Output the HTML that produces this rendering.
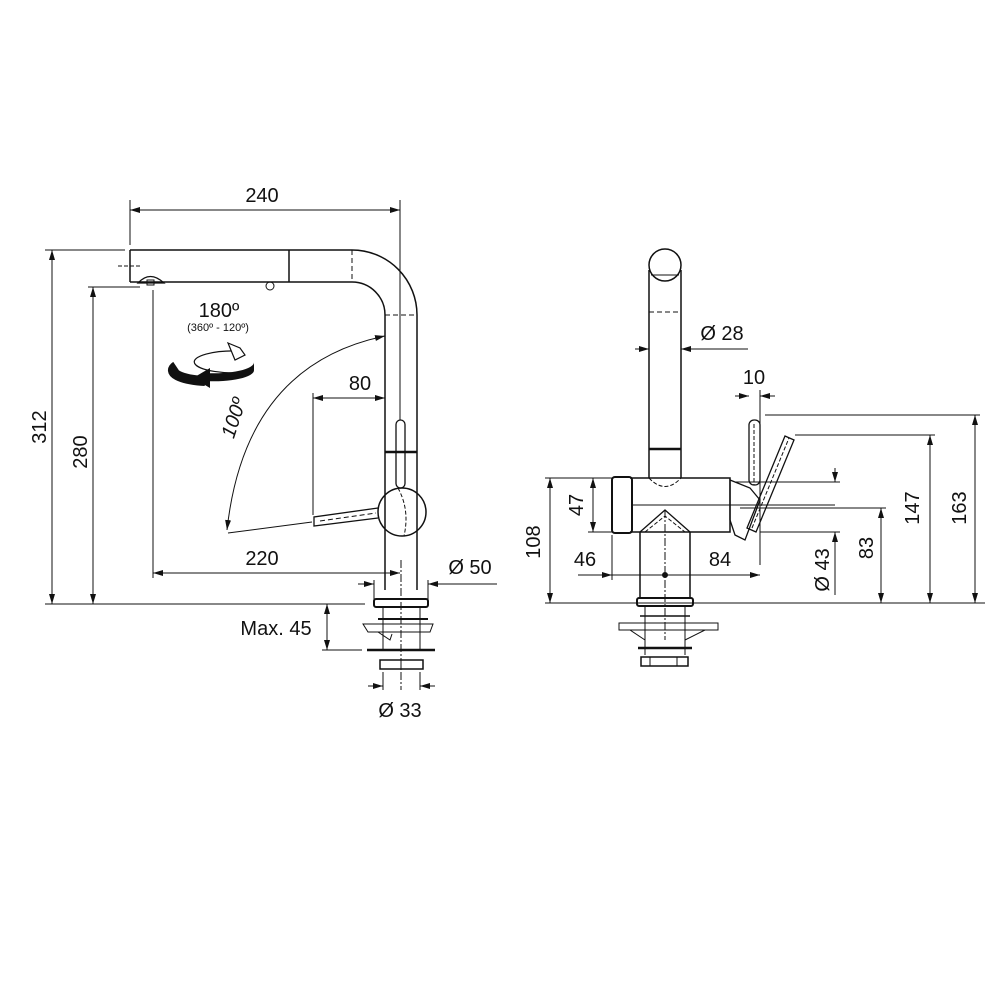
<!DOCTYPE html>
<html><head><meta charset="utf-8"><style>html,body{margin:0;padding:0;background:#fff}svg{display:block}text{font-family:"Liberation Sans",sans-serif;fill:#111}</style></head>
<body>
<svg width="1000" height="1000" viewBox="0 0 1000 1000" xmlns="http://www.w3.org/2000/svg">
<defs>
<marker id="a" viewBox="0 0 10 6" refX="10" refY="3" markerWidth="10" markerHeight="6" orient="auto-start-reverse" markerUnits="userSpaceOnUse"><path d="M0,0L10,3L0,6z" fill="#111"/></marker>
</defs>
<g stroke="#111" fill="none" stroke-width="1">
<!-- LEFT FAUCET -->
<path d="M130,250H352A65,65 0 0 1 417,315V590" stroke-width="1.5"/>
<path d="M130,282H352A33,33 0 0 1 385,315V590" stroke-width="1.5"/>
<line x1="130" y1="250" x2="130" y2="282" stroke-width="1.5"/>
<line x1="289" y1="250" x2="289" y2="282" stroke-width="1.5"/>
<line x1="352" y1="250" x2="352" y2="282" stroke-dasharray="5,3"/>
<line x1="385" y1="315" x2="417" y2="315" stroke-dasharray="5,3"/>
<line x1="385" y1="452" x2="417" y2="452" stroke-width="2.5"/>
<line x1="118" y1="266" x2="142" y2="266" stroke-dasharray="4,2"/>
<path d="M138,283Q150,270 164,283Z" stroke-width="1.3"/>
<rect x="147" y="280" width="7" height="5"/>
<circle cx="270" cy="286" r="4"/>
<rect x="396" y="420" width="9" height="68" rx="4.5" stroke-width="1.3"/>
<circle cx="402" cy="512" r="24" stroke-width="1.5"/>
<path d="M398,488Q410,510 404,536" stroke-dasharray="4,2"/>
<path d="M378,508L314,517V526L378,518" stroke-width="1.3"/>
<line x1="320" y1="521" x2="376" y2="513" stroke-dasharray="5,3"/>
<!-- base left -->
<rect x="374" y="599" width="54" height="8" rx="2" stroke-width="2"/>
<line x1="383" y1="607" x2="383" y2="650"/><line x1="420" y1="607" x2="420" y2="650"/>
<line x1="378" y1="619" x2="428" y2="619" stroke-width="2"/>
<path d="M363,624H433L430,632H368Z"/>
<path d="M378,632L390,640L392,634"/>
<line x1="367" y1="650" x2="435" y2="650" stroke-width="2.5"/>
<rect x="380" y="660" width="43" height="9" stroke-width="1.5"/>
<line x1="401" y1="660" x2="401" y2="669"/>
<line x1="401" y1="560" x2="401" y2="690" stroke-dasharray="8,2,2,2"/>
<!-- dims left -->
<line x1="130" y1="200" x2="130" y2="245"/>
<line x1="400" y1="200" x2="400" y2="420"/>
<line x1="130" y1="210" x2="400" y2="210" marker-start="url(#a)" marker-end="url(#a)"/>
<line x1="45" y1="250" x2="125" y2="250"/>
<line x1="45" y1="604" x2="365" y2="604"/>
<line x1="52" y1="250" x2="52" y2="604" marker-start="url(#a)" marker-end="url(#a)"/>
<line x1="88" y1="287" x2="140" y2="287"/>
<line x1="93" y1="287" x2="93" y2="604" marker-start="url(#a)" marker-end="url(#a)"/>
<line x1="153" y1="290" x2="153" y2="578"/>
<line x1="153" y1="573" x2="400" y2="573" marker-start="url(#a)" marker-end="url(#a)"/>
<line x1="313" y1="393" x2="313" y2="515"/>
<line x1="313" y1="398" x2="385" y2="398" marker-start="url(#a)" marker-end="url(#a)"/>
<line x1="374" y1="580" x2="374" y2="600"/><line x1="428" y1="580" x2="428" y2="600"/>
<line x1="358" y1="584" x2="374" y2="584" marker-end="url(#a)"/>
<line x1="497" y1="584" x2="428" y2="584" marker-end="url(#a)"/>
<path d="M385,336Q245,365 227,530" marker-start="url(#a)" marker-end="url(#a)"/>
<line x1="228" y1="533" x2="312" y2="522"/>
<line x1="322" y1="650" x2="362" y2="650"/>
<line x1="327" y1="604" x2="327" y2="650" marker-start="url(#a)" marker-end="url(#a)"/>
<line x1="383" y1="672" x2="383" y2="690"/><line x1="420" y1="672" x2="420" y2="690"/>
<line x1="368" y1="686" x2="383" y2="686" marker-end="url(#a)"/>
<line x1="435" y1="686" x2="420" y2="686" marker-end="url(#a)"/>
<!-- rotation icon -->
<path d="M240,351A40,11 0 1 0 250,372" stroke-width="1.2"/>
<path d="M176,366A40,11 0 0 0 205,381" stroke="#111" stroke-width="10"/>
<path d="M205,381A40,11 0 0 0 254,370L254,362A40,11 0 0 1 205,373Z" fill="#111" stroke="none"/>
<path d="M210,368L193,378L210,388Z" fill="#111" stroke="none"/>
<path d="M228,343L240,348L245,355L235,360Z" fill="#fff" stroke-width="1.2"/>
<!-- RIGHT FAUCET -->
<circle cx="665" cy="265" r="16" stroke-width="1.5"/>
<path d="M649,270V478M681,270V478" stroke-width="1.5"/>
<path d="M651,275H679" />
<line x1="649" y1="312" x2="681" y2="312" stroke-dasharray="5,3"/>
<line x1="649" y1="449" x2="681" y2="449" stroke-width="2.5"/>
<path d="M630,478H730V532H630" stroke-width="1.5"/>
<rect x="612" y="477" width="20" height="56" rx="3" stroke-width="2"/>
<line x1="632" y1="505" x2="835" y2="505"/>
<path d="M649,478Q665,495 681,478" stroke-dasharray="4,2"/>
<path d="M640,532L665,510L690,532" stroke-width="1.3"/>
<path d="M645,532L665,516L685,532" stroke-dasharray="4,2"/>
<path d="M640,532V598M690,532V598" stroke-width="1.5"/>
<line x1="665" y1="510" x2="665" y2="640" stroke-dasharray="8,2,2,2"/>
<circle cx="665" cy="575" r="2.5" fill="#111"/>
<rect x="749" y="420" width="11" height="65" rx="5" stroke-width="1.3"/>
<line x1="754" y1="424" x2="754" y2="485" stroke-dasharray="4,2"/>
<path d="M730,480L750,488L760,500L745,540L735,535L730,520Z" stroke-width="1.3"/>
<path d="M747,528L785,436L794,440L756,532Z" stroke-width="1.3"/>
<line x1="752" y1="528" x2="789" y2="438" stroke-dasharray="4,2"/>
<!-- base right -->
<rect x="637" y="598" width="56" height="8" rx="2" stroke-width="2"/>
<line x1="645" y1="606" x2="645" y2="655"/><line x1="685" y1="606" x2="685" y2="655"/>
<line x1="640" y1="616" x2="690" y2="616" stroke-width="1.5"/>
<path d="M619,623H718V630H619Z"/>
<path d="M630,630L645,640M705,630L685,640"/>
<line x1="638" y1="648" x2="692" y2="648" stroke-width="2.5"/>
<rect x="641" y="657" width="47" height="9" stroke-width="1.5"/>
<line x1="650" y1="657" x2="650" y2="666"/><line x1="677" y1="657" x2="677" y2="666"/>
<!-- dims right -->
<line x1="635" y1="349" x2="649" y2="349" marker-end="url(#a)"/>
<line x1="748" y1="349" x2="681" y2="349" marker-end="url(#a)"/>
<line x1="735" y1="396" x2="749" y2="396" marker-end="url(#a)"/>
<line x1="775" y1="396" x2="760" y2="396" marker-end="url(#a)"/>
<line x1="760" y1="390" x2="760" y2="565"/>
<line x1="545" y1="478" x2="612" y2="478"/>
<line x1="588" y1="532" x2="612" y2="532"/>
<line x1="550" y1="478" x2="550" y2="603" marker-start="url(#a)" marker-end="url(#a)"/>
<line x1="593" y1="478" x2="593" y2="532" marker-start="url(#a)" marker-end="url(#a)"/>
<line x1="612" y1="535" x2="612" y2="580"/>
<line x1="578" y1="575" x2="612" y2="575" marker-end="url(#a)"/>
<line x1="612" y1="575" x2="760" y2="575" marker-end="url(#a)"/>
<line x1="545" y1="603" x2="985" y2="603"/>
<line x1="735" y1="482" x2="840" y2="482"/>
<line x1="760" y1="532" x2="840" y2="532"/>
<line x1="835" y1="468" x2="835" y2="482" marker-end="url(#a)"/>
<line x1="835" y1="595" x2="835" y2="532" marker-end="url(#a)"/>
<line x1="740" y1="508" x2="886" y2="508"/>
<line x1="881" y1="508" x2="881" y2="603" marker-start="url(#a)" marker-end="url(#a)"/>
<line x1="795" y1="435" x2="935" y2="435"/>
<line x1="930" y1="435" x2="930" y2="603" marker-start="url(#a)" marker-end="url(#a)"/>
<line x1="765" y1="415" x2="980" y2="415"/>
<line x1="975" y1="415" x2="975" y2="603" marker-start="url(#a)" marker-end="url(#a)"/>
</g>
<g font-size="20">
<text x="262" y="202" text-anchor="middle">240</text>
<text transform="translate(46,427) rotate(-90)" text-anchor="middle">312</text>
<text transform="translate(87,452) rotate(-90)" text-anchor="middle">280</text>
<text x="262" y="565" text-anchor="middle">220</text>
<text x="360" y="390" text-anchor="middle">80</text>
<text x="470" y="574" text-anchor="middle">Ø 50</text>
<text x="219" y="317" text-anchor="middle">180º</text>
<text x="218" y="331" text-anchor="middle" font-size="11">(360º - 120º)</text>
<text transform="translate(240,420) rotate(-72)" text-anchor="middle" font-style="italic">100º</text>
<text x="276" y="635" text-anchor="middle">Max. 45</text>
<text x="400" y="717" text-anchor="middle">Ø 33</text>
<text x="722" y="340" text-anchor="middle">Ø 28</text>
<text x="754" y="384" text-anchor="middle">10</text>
<text transform="translate(583,505) rotate(-90)" text-anchor="middle">47</text>
<text transform="translate(540,542) rotate(-90)" text-anchor="middle">108</text>
<text x="585" y="566" text-anchor="middle">46</text>
<text x="720" y="566" text-anchor="middle">84</text>
<text transform="translate(829,570) rotate(-90)" text-anchor="middle">Ø 43</text>
<text transform="translate(873,548) rotate(-90)" text-anchor="middle">83</text>
<text transform="translate(919,508) rotate(-90)" text-anchor="middle">147</text>
<text transform="translate(966,508) rotate(-90)" text-anchor="middle">163</text>
</g>
</svg>
</body></html>
